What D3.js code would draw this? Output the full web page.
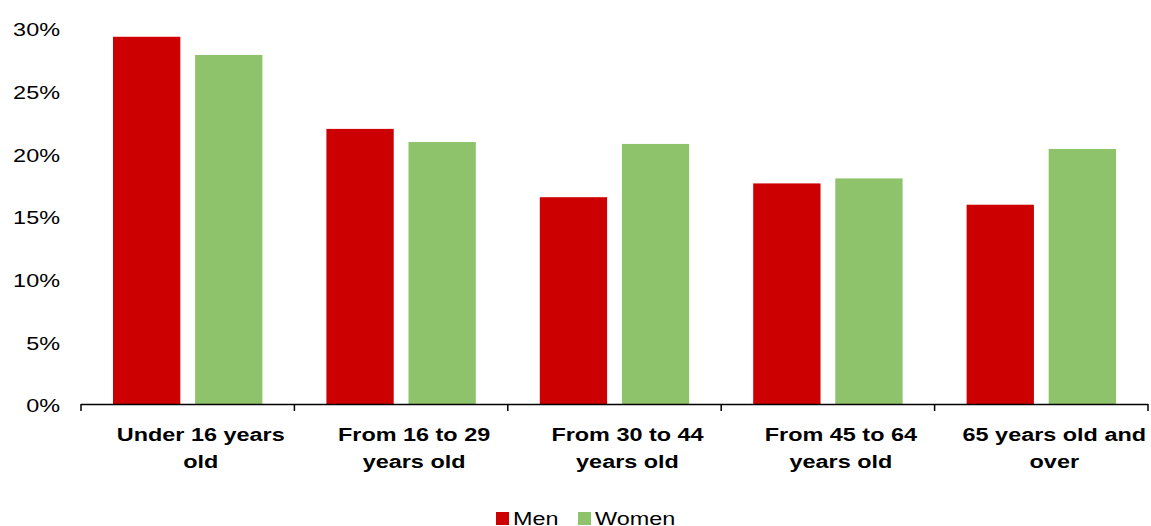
<!DOCTYPE html>
<html>
<head>
<meta charset="utf-8">
<script src="https://cdn.jsdelivr.net/npm/d3@7"></script>
<style>
  html, body { margin: 0; padding: 0; background: #fff; }
  svg { display: block; font-family: "Liberation Sans", Arial, sans-serif; }
</style>
</head>
<body>
<svg id="chart" width="1151" height="526"></svg>
<script>
const categories = [
  ["Under 16 years", "old"],
  ["From 16 to 29", "years old"],
  ["From 30 to 44", "years old"],
  ["From 45 to 64", "years old"],
  ["65 years old and", "over"]
];
const seriesNames = ["Men", "Women"];
const menValues = [29.3, 21.95, 16.5, 17.6, 15.9];
const womenValues = [27.85, 20.9, 20.75, 18.0, 20.35];
const yTicks = [0, 5, 10, 15, 20, 25, 30];
const colors = ["#CC0000", "#8EC36B"];

const FS = 19.2;        // font size
const SX = 1.22;        // horizontal stretch seen in the reference text

const svg = d3.select("#chart");
const x0 = d3.scaleBand().domain(d3.range(categories.length)).range([81, 1148]).padding(0);
const x1 = d3.scaleBand().domain(seriesNames).range([32, x0.bandwidth() - 32]).paddingInner(0.18).paddingOuter(0);
const y = d3.scaleLinear().domain([0, 30]).range([404, 28]);

const seriesValues = [menValues, womenValues];

// bars
seriesNames.forEach((s, si) => {
  svg.append("g").selectAll("rect")
    .data(seriesValues[si])
    .join("rect")
    .attr("x", (d, i) => x0(i) + x1(s))
    .attr("y", d => y(d))
    .attr("width", x1.bandwidth())
    .attr("height", d => y(0) - y(d))
    .attr("fill", colors[si]);
});

// y axis labels
const yAxis = d3.axisLeft(y).tickValues(yTicks).tickFormat(d => d + "%").tickSize(0).tickPadding(0);
const gy = svg.append("g").attr("transform", "translate(60,0)").call(yAxis);
gy.select(".domain").remove();
gy.selectAll("text")
  .attr("font-size", FS).attr("fill", "#000")
  .attr("font-family", "Liberation Sans, Arial, sans-serif")
  .attr("x", 0).attr("dy", "0.4em")
  .attr("text-anchor", "end")
  .attr("transform", `scale(${SX},1)`);

// x axis line with boundary ticks
const boundaries = d3.range(categories.length + 1).map(i => i === categories.length ? x0.range()[1] : x0(i));
const gx = svg.append("g");
gx.append("line").attr("x1", x0.range()[0]).attr("x2", x0.range()[1]).attr("y1", 404.5).attr("y2", 404.5)
  .attr("stroke", "#000").attr("stroke-width", 1.5);
gx.selectAll("line.tk").data(boundaries).join("line").attr("class", "tk")
  .attr("x1", d => d).attr("x2", d => d).attr("y1", 404).attr("y2", 411)
  .attr("stroke", "#000").attr("stroke-width", 1.5);

// category labels
const labG = svg.append("g").selectAll("g").data(categories).join("g")
  .attr("transform", (d, i) => `translate(${x0(i) + x0.bandwidth() / 2 + 13},0) scale(${SX},1)`);
const lab = labG.append("text")
  .attr("text-anchor", "middle")
  .attr("font-size", FS).attr("font-weight", "bold").attr("fill", "#000");
lab.each(function(d) {
  const t = d3.select(this);
  d.forEach((line, li) => {
    t.append("tspan").attr("x", 0).attr("y", 441.5 + li * 26.7).text(line);
  });
});

// legend
const legend = [
  { name: seriesNames[0], color: colors[0], x: 496 },
  { name: seriesNames[1], color: colors[1], x: 578 }
];
const lg = svg.append("g").selectAll("g").data(legend).join("g");
lg.append("rect").attr("x", d => d.x).attr("y", 512).attr("width", 13).attr("height", 13).attr("fill", d => d.color);
lg.append("text")
  .attr("transform", d => `translate(${d.x + 17},525) scale(${SX},1)`)
  .attr("font-size", FS).attr("fill", "#000").text(d => d.name);
</script>
</body>
</html>
